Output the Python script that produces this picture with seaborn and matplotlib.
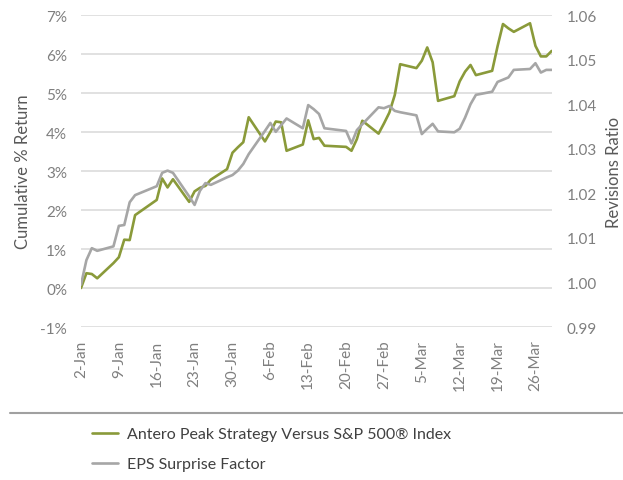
import pandas as pd
import matplotlib
matplotlib.use('Agg')
import matplotlib.pyplot as plt
from matplotlib.lines import Line2D
import seaborn as sns

# daily points, Q1 2024
dates = [
    '2024-01-02', '2024-01-03', '2024-01-04', '2024-01-05', '2024-01-08', '2024-01-09',
    '2024-01-10', '2024-01-11', '2024-01-12', '2024-01-16', '2024-01-17', '2024-01-18',
    '2024-01-19', '2024-01-22', '2024-01-23', '2024-01-24', '2024-01-25', '2024-01-26',
    '2024-01-29', '2024-01-30', '2024-01-31', '2024-02-01', '2024-02-02', '2024-02-05',
    '2024-02-06', '2024-02-07', '2024-02-08', '2024-02-09', '2024-02-12', '2024-02-13',
    '2024-02-14', '2024-02-15', '2024-02-16', '2024-02-20', '2024-02-21', '2024-02-22',
    '2024-02-23', '2024-02-26', '2024-02-27', '2024-02-28', '2024-02-29', '2024-03-01',
    '2024-03-04', '2024-03-05', '2024-03-06', '2024-03-07', '2024-03-08', '2024-03-11',
    '2024-03-12', '2024-03-13', '2024-03-14', '2024-03-15', '2024-03-18', '2024-03-19',
    '2024-03-20', '2024-03-21', '2024-03-22', '2024-03-25', '2024-03-26', '2024-03-27',
    '2024-03-28', '2024-03-29',
]

# cumulative % return, strategy vs S&P 500 (left axis)
strategy_return = [
    0.00, 0.38, 0.36, 0.25, 0.64, 0.79,
    1.24, 1.23, 1.87, 2.26, 2.81, 2.58,
    2.79, 2.21, 2.48, 2.57, 2.62, 2.78,
    3.05, 3.47, 3.61, 3.74, 4.38, 3.76,
    4.00, 4.27, 4.25, 3.52, 3.68, 4.30,
    3.82, 3.85, 3.65, 3.62, 3.52, 3.82,
    4.29, 3.96, 4.22, 4.50, 4.95, 5.74,
    5.64, 5.83, 6.17, 5.79, 4.80, 4.92,
    5.30, 5.55, 5.72, 5.46, 5.57, 6.20,
    6.77, 6.66, 6.57, 6.79, 6.21, 5.94,
    5.94, 6.08,
]

# EPS surprise factor, revisions ratio (right axis)
eps_surprise = [
    0.9995, 1.0050, 1.0077, 1.0071, 1.0081, 1.0127,
    1.0129, 1.0180, 1.0196, 1.0216, 1.0246, 1.0251,
    1.0246, 1.0193, 1.0174, 1.0206, 1.0223, 1.0219,
    1.0236, 1.0241, 1.0251, 1.0266, 1.0288, 1.0340,
    1.0358, 1.0338, 1.0353, 1.0368, 1.0346, 1.0398,
    1.0389, 1.0378, 1.0346, 1.0340, 1.0312, 1.0342,
    1.0355, 1.0393, 1.0391, 1.0396, 1.0385, 1.0382,
    1.0375, 1.0333, 1.0345, 1.0356, 1.0339, 1.0337,
    1.0345, 1.0370, 1.0400, 1.0421, 1.0428, 1.0450,
    1.0455, 1.0460, 1.0477, 1.0479, 1.0492, 1.0471,
    1.0477, 1.0477,
]

pct_ticks = [-1, 0, 1, 2, 3, 4, 5, 6, 7]
ratio_ticks = [0.99, 1.00, 1.01, 1.02, 1.03, 1.04, 1.05, 1.06]
date_ticks = ['2024-01-02', '2024-01-09', '2024-01-16', '2024-01-23', '2024-01-30',
              '2024-02-06', '2024-02-13', '2024-02-20', '2024-02-27', '2024-03-05',
              '2024-03-12', '2024-03-19', '2024-03-26']

series_names = ['Antero Peak Strategy Versus S&P 500® Index', 'EPS Surprise Factor']

df = pd.DataFrame({'Date': pd.to_datetime(dates),
                   'Return': strategy_return,
                   'EPS': eps_surprise})
tick_dates = pd.to_datetime(date_ticks)

sns.set_style('white')
plt.rcParams['font.family'] = ['Lato', 'DejaVu Sans']

green = '#8a9a3a'
grey = '#a6a6a6'
tick_col = '#7f7f7f'
label_col = '#595959'

fig = plt.figure(figsize=(6.23, 4.81), dpi=100)
ax = fig.add_axes([0.130, 0.318, 0.7555, 0.6486])
ax2 = ax.twinx()

sns.lineplot(data=df, x='Date', y='Return', ax=ax, color=green, lw=1.9, legend=False)
sns.lineplot(data=df, x='Date', y='EPS', ax=ax2, color=grey, lw=1.9, legend=False)

ax.set_xlim(df['Date'].min(), df['Date'].max())
ax.set_ylim(-1, 7)
ax2.set_ylim(0.99, 1.06)

ax.set_yticks(pct_ticks)
ax.set_yticklabels([f'{v}%' for v in pct_ticks])
ax2.set_yticks(ratio_ticks)
ax2.set_yticklabels([f'{v:.2f}' for v in ratio_ticks])
ax.set_xticks(tick_dates)
ax.set_xticklabels([f'{d.day}-{d:%b}' for d in tick_dates], rotation=90)

ax.grid(axis='y', color='#d9d9d9', lw=1.1)
ax.grid(axis='x', visible=False)
ax2.grid(False)
for a in (ax, ax2):
    for s in a.spines.values():
        s.set_visible(False)

ax.tick_params(axis='y', length=0, pad=10, labelsize=11, labelcolor=tick_col)
ax.tick_params(axis='x', length=0, pad=9, labelsize=11, labelcolor=tick_col)
ax2.tick_params(axis='y', length=0, pad=11, labelsize=11, labelcolor=tick_col)

ax.set_xlabel('')
ax.set_ylabel('Cumulative % Return', fontsize=12, color=label_col, labelpad=7)
ax2.set_ylabel('Revisions Ratio', fontsize=12, color=label_col, labelpad=6)

# separator above legend
fig.add_artist(Line2D([0.016, 1.0], [0.139, 0.139], color='#a0a0a0', lw=1.5))

handles = [ax.get_lines()[0], ax2.get_lines()[0]]
fig.legend(handles, series_names, loc='upper left', bbox_to_anchor=(0.148, 0.110),
           frameon=False, fontsize=11.5, labelcolor='#404040', handlelength=1.6,
           handletextpad=0.55, labelspacing=1.0, borderpad=0, borderaxespad=0)

fig.savefig('out.png', dpi=100)
